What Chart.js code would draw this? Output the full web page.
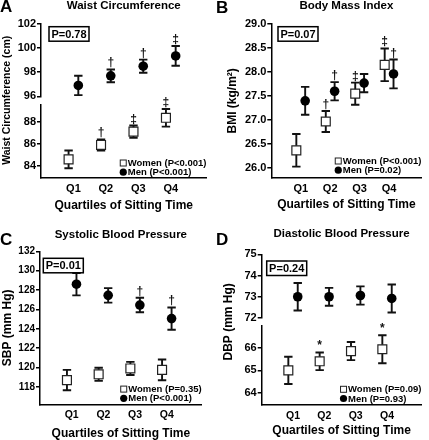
<!DOCTYPE html>
<html>
<head>
<meta charset="utf-8">
<script src="https://cdn.jsdelivr.net/npm/chart.js@4.4.1/dist/chart.umd.min.js"></script>
<style>
  html, body { margin: 0; padding: 0; background: #fff; }
  #wrap { position: relative; width: 429px; height: 440px; }
  canvas { position: absolute; }
</style>
</head>
<body>
<div id="wrap">
  <canvas id="chartA" width="214" height="220" style="left:0;top:0"></canvas>
  <canvas id="chartB" width="215" height="220" style="left:214px;top:0"></canvas>
  <canvas id="chartC" width="214" height="220" style="left:0;top:220px"></canvas>
  <canvas id="chartD" width="215" height="220" style="left:214px;top:220px"></canvas>
</div>
<script>
// categories
const quartiles = ['Q1', 'Q2', 'Q3', 'Q4'];

// A - waist circumference (cm)
const waistWomen = [84.6, 85.9, 87.1, 88.35];
const waistWomenErr = [0.8, 0.5, 0.55, 0.8];
const waistMen = [96.9, 97.7, 98.5, 99.35];
const waistMenErr = [0.8, 0.53, 0.54, 0.82];
const waistWomenSig = ['', '†', '‡', '‡'];
const waistMenSig = ['', '†', '†', '‡'];
const waistTicksLow = [84, 86, 88];
const waistTicksHigh = [96, 98, 100, 102];

// B - body mass index
const bmiWomen = [26.37, 26.97, 27.55, 28.15];
const bmiWomenErr = [0.34, 0.22, 0.23, 0.34];
const bmiMen = [27.40, 27.60, 27.77, 27.96];
const bmiMenErr = [0.29, 0.19, 0.19, 0.30];
const bmiWomenSig = ['', '†', '‡', '‡'];
const bmiMenSig = ['', '†', '', '†'];
const bmiTicks = [26.0, 26.5, 27.0, 27.5, 28.0, 28.5, 29.0];

// C - systolic blood pressure
const sbpWomen = [118.7, 119.3, 119.9, 119.75];
const sbpWomenErr = [1.05, 0.67, 0.68, 1.07];
const sbpMen = [128.6, 127.45, 126.45, 125.05];
const sbpMenErr = [1.15, 0.75, 0.75, 1.15];
const sbpWomenSig = ['', '', '', ''];
const sbpMenSig = ['', '', '†', '†'];
const sbpTicks = [118, 120, 122, 124, 126, 128, 130, 132];

// D - diastolic blood pressure
const dbpWomen = [65.0, 65.4, 65.85, 65.93];
const dbpWomenErr = [0.6, 0.39, 0.4, 0.62];
const dbpMen = [73.0, 73.0, 73.06, 72.92];
const dbpMenErr = [0.65, 0.42, 0.43, 0.66];
const dbpWomenSig = ['', '*', '', '*'];
const dbpMenSig = ['', '', '', ''];
const dbpTicksLow = [64, 65, 66];
const dbpTicksHigh = [72, 73, 74, 75];

Chart.defaults.font.family = '"Liberation Sans", Arial, Helvetica, sans-serif';
Chart.defaults.font.weight = 'bold';
Chart.defaults.color = '#000';

// error bars + significance marks
const errorBars = {
  id: 'errorBars',
  beforeDatasetsDraw(chart) {
    const ctx = chart.ctx;
    ctx.save();
    ctx.strokeStyle = '#111';
    ctx.lineWidth = 1.9;
    chart.data.datasets.forEach((ds, i) => {
      const meta = chart.getDatasetMeta(i);
      const scale = chart.scales[meta.yAxisID];
      meta.data.forEach((pt, j) => {
        const v = ds.data[j].y;
        const hi = scale.getPixelForValue(v + ds.errors[j]);
        const lo = scale.getPixelForValue(v - ds.errors[j]);
        ctx.beginPath();
        ctx.moveTo(pt.x, hi); ctx.lineTo(pt.x, lo);
        ctx.moveTo(pt.x - 4.2, hi); ctx.lineTo(pt.x + 4.2, hi);
        ctx.moveTo(pt.x - 4.2, lo); ctx.lineTo(pt.x + 4.2, lo);
        ctx.stroke();
      });
    });
    ctx.restore();
  },
  afterDatasetsDraw(chart) {
    const ctx = chart.ctx;
    ctx.save();
    ctx.fillStyle = '#111';
    ctx.font = 'bold 12px "Liberation Sans", Arial, sans-serif';
    ctx.textAlign = 'center';
    ctx.textBaseline = 'alphabetic';
    chart.data.datasets.forEach((ds, i) => {
      const meta = chart.getDatasetMeta(i);
      const scale = chart.scales[meta.yAxisID];
      meta.data.forEach((pt, j) => {
        if (!ds.marks[j]) return;
        const hi = scale.getPixelForValue(ds.data[j].y + ds.errors[j]);
        ctx.fillText(ds.marks[j], pt.x, hi - 3);
      });
    });
    ctx.restore();
  }
};

// panel letter, P box and the legend inside the plot
const panelExtras = {
  id: 'panelExtras',
  afterDraw(chart, args, o) {
    const { ctx, chartArea } = chart;
    ctx.save();
    ctx.fillStyle = '#000';
    ctx.strokeStyle = '#000';

    ctx.font = 'bold 17px "Liberation Sans", Arial, sans-serif';
    ctx.textAlign = 'left';
    ctx.textBaseline = 'alphabetic';
    ctx.fillText(o.letter, o.letterX, o.letterY);

    const bx = chartArea.left + o.boxX, by = chartArea.top + o.boxY;
    ctx.lineWidth = 1.5;
    ctx.strokeRect(bx, by, 40, 14.5);
    ctx.font = 'bold 11px "Liberation Sans", Arial, sans-serif';
    ctx.textAlign = 'center';
    ctx.textBaseline = 'middle';
    ctx.fillText(o.pText, bx + 20, by + 7.8);

    ctx.font = 'bold 9.5px "Liberation Sans", Arial, sans-serif';
    ctx.textAlign = 'left';
    const sets = chart.data.datasets;
    const w = Math.max(...sets.map(d => ctx.measureText(d.label).width));
    const tx = chartArea.right - w;
    sets.forEach((d, k) => {
      const y = chartArea.bottom - o.legendBottom - (sets.length - 1 - k) * 9.2;
      ctx.lineWidth = 1;
      if (d.pointStyle === 'rect') {
        ctx.fillStyle = '#fff';
        ctx.fillRect(tx - 7.5, y - 3, 6, 6);
        ctx.strokeStyle = '#222';
        ctx.strokeRect(tx - 7.5, y - 3, 6, 6);
      } else {
        ctx.fillStyle = '#000';
        ctx.beginPath();
        ctx.arc(tx - 4.5, y, 3.6, 0, Math.PI * 2);
        ctx.fill();
      }
      ctx.fillStyle = '#000';
      ctx.fillText(d.label, tx, y + 0.5);
    });
    ctx.restore();
  }
};

const axisLine = { color: '#000', width: 1.5 };
const tickMarks = { drawOnChartArea: false, tickLength: 4, color: '#000', lineWidth: 1.5 };

function valueAxis(a) {
  return {
    type: 'linear', position: 'left', min: a.min, max: a.max,
    stack: a.stack, stackWeight: a.weight,
    border: axisLine, grid: tickMarks,
    afterBuildTicks: s => { s.ticks = a.ticks.map(v => ({ value: v })); },
    afterFit: s => { s.width = a.width; },
    ticks: { padding: 1, autoSkip: false, font: { size: a.font }, callback: v => v.toFixed(a.decimals) },
    title: a.title || { display: false }
  };
}

function gapAxis(a) {
  return {
    type: 'linear', position: 'left', stack: 'split', stackWeight: a.weight,
    border: { display: false }, grid: { display: false, drawTicks: false },
    ticks: { display: false },
    afterFit: s => { s.width = a.width; },
    title: a.title
  };
}

function yTitle(text, size, pad) {
  return { display: true, text, font: { size, lineHeight: 1 }, padding: { top: pad, bottom: 0 } };
}

function quartileAxis(height, size, titlePad) {
  return {
    type: 'linear', min: 0, max: 5.1,
    border: axisLine, grid: { display: false, drawTicks: false },
    afterBuildTicks: s => { s.ticks = quartiles.map((q, i) => ({ value: i + 1 })); },
    afterFit: s => { s.height = height; },
    ticks: { padding: 4.5, autoSkip: false, maxRotation: 0, font: { size }, callback: v => quartiles[v - 1] },
    title: { display: true, text: 'Quartiles of Sitting Time', font: { size: 12, lineHeight: 1 }, padding: { top: 0, bottom: titlePad } }
  };
}

function series(label, values, errors, marks, shift, axis, women) {
  return {
    label,
    data: values.map((v, i) => ({ x: i + 1 + shift, y: v })),
    errors, marks,
    yAxisID: axis,
    pointStyle: women ? 'rect' : 'circle',
    pointRadius: women ? 6.3 : 4.8,
    backgroundColor: women ? '#fff' : '#000',
    borderColor: women ? '#222' : '#000',
    borderWidth: women ? 1.2 : 0
  };
}

function makePanel(id, p) {
  return new Chart(document.getElementById(id), {
    type: 'scatter',
    data: { datasets: p.datasets },
    options: {
      animation: false, responsive: false, events: [],
      layout: { padding: { left: 0, right: p.padRight, top: 0, bottom: 0 } },
      plugins: {
        legend: { display: false },
        tooltip: { enabled: false },
        title: {
          display: true, text: p.title, fullSize: false, color: '#000',
          font: { size: 11.5, lineHeight: 1 },
          padding: { top: p.titleTop, bottom: p.titleBottom }
        },
        panelExtras: p.extras
      },
      scales: p.scales
    },
    plugins: [errorBars, panelExtras]
  });
}

const dodge = 0.15;

// A
makePanel('chartA', {
  title: 'Waist Circumference', titleTop: 0.25, titleBottom: 12.25, padRight: 7,
  datasets: [
    series('Women (P<0.001)', waistWomen, waistWomenErr, waistWomenSig, -dodge, 'yLow', true),
    series('Men (P<0.001)', waistMen, waistMenErr, waistMenSig, dodge, 'yHigh', false)
  ],
  scales: {
    x: quartileAxis(42.3, 11, 8),
    yLow: valueAxis({ min: 82.94, max: 89.57, ticks: waistTicksLow, decimals: 0, font: 11, width: 41, stack: 'split', weight: 73.4 }),
    yGap: gapAxis({ width: 41, weight: 8, title: yTitle('Waist Circumference (cm)', 10.5, 2) }),
    yHigh: valueAxis({ min: 96, max: 102, ticks: waistTicksHigh, decimals: 0, font: 11, width: 41, stack: 'split', weight: 72.3 })
  },
  extras: { letter: 'A', letterX: 0, letterY: 12, pText: 'P=0.78', boxX: 8, boxY: 2.7, legendBottom: 5.5 }
});

// B
makePanel('chartB', {
  title: 'Body Mass Index', titleTop: 0.25, titleBottom: 12.25, padRight: 1,
  datasets: [
    series('Women (P<0.001)', bmiWomen, bmiWomenErr, bmiWomenSig, -dodge, 'y', true),
    series('Men (P=0.02)', bmiMen, bmiMenErr, bmiMenSig, dodge, 'y', false)
  ],
  scales: {
    x: quartileAxis(42.3, 11, 9.5),
    y: valueAxis({ min: 25.8, max: 29.0, ticks: bmiTicks, decimals: 1, font: 11, width: 57.3,
      title: yTitle('BMI (kg/m²)', 12, 12.5) })
  },
  extras: { letter: 'B', letterX: 2, letterY: 13, pText: 'P=0.07', boxX: 6.7, boxY: 2.7, legendBottom: 7.5 }
});

// C
makePanel('chartC', {
  title: 'Systolic Blood Pressure', titleTop: 8.75, titleBottom: 11.05, padRight: 12.3,
  datasets: [
    series('Women (P=0.35)', sbpWomen, sbpWomenErr, sbpWomenSig, -dodge, 'y', true),
    series('Men (P<0.001)', sbpMen, sbpMenErr, sbpMenSig, dodge, 'y', false)
  ],
  scales: {
    x: quartileAxis(35.7, 10.5, 0.5),
    y: valueAxis({ min: 116.2, max: 132, ticks: sbpTicks, decimals: 0, font: 10, width: 40,
      title: yTitle('SBP (mm Hg)', 12, 1.5) })
  },
  extras: { letter: 'C', letterX: 0, letterY: 25, pText: 'P=0.01', boxX: 3.3, boxY: 7, legendBottom: 6 }
});

// D
makePanel('chartD', {
  title: 'Diastolic Blood Pressure', titleTop: 7.75, titleBottom: 15.05, padRight: 1.7,
  datasets: [
    series('Women (P=0.09)', dbpWomen, dbpWomenErr, dbpWomenSig, -dodge, 'yLow', true),
    series('Men (P=0.93)', dbpMen, dbpMenErr, dbpMenSig, dodge, 'yHigh', false)
  ],
  scales: {
    x: quartileAxis(35, 10.5, 3),
    yLow: valueAxis({ min: 63.47, max: 66.97, ticks: dbpTicksLow, decimals: 0, font: 11, width: 47.7, stack: 'split', weight: 79.3 }),
    yGap: gapAxis({ width: 47.7, weight: 7.7, title: yTitle('DBP (mm Hg)', 12, 8.5) }),
    yHigh: valueAxis({ min: 72, max: 75, ticks: dbpTicksHigh, decimals: 0, font: 11, width: 47.7, stack: 'split', weight: 63.7 })
  },
  extras: { letter: 'D', letterX: 2, letterY: 25, pText: 'P=0.24', boxX: 5, boxY: 6.7, legendBottom: 6.5 }
});
</script>
</body>
</html>
